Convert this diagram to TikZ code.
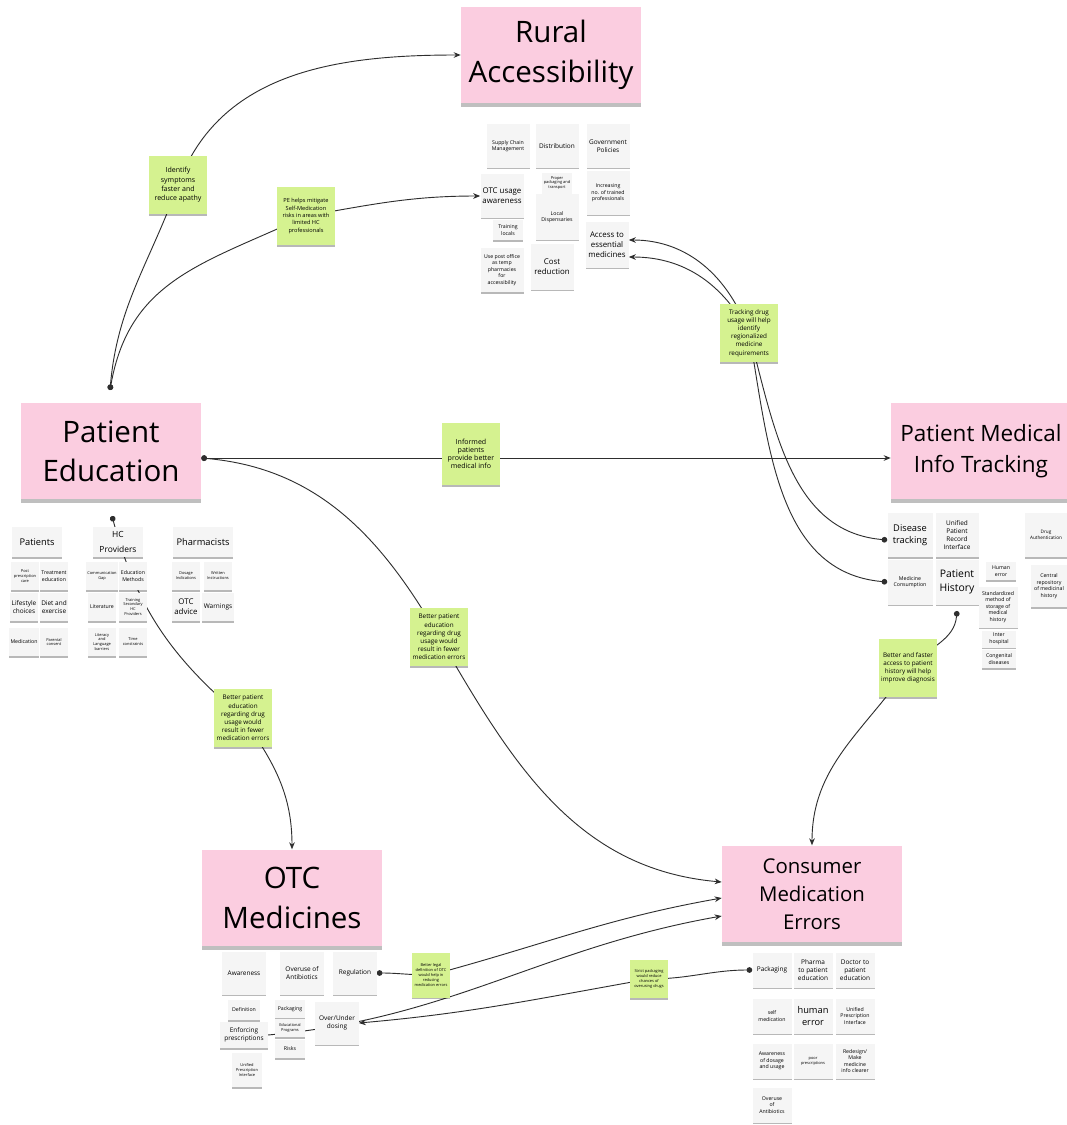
\documentclass[tikz,border=0pt]{standalone}
\usepackage{fontspec}
\setmainfont{Open Sans}
\usetikzlibrary{positioning,arrows.meta,shadows,backgrounds}
\definecolor{stickyPink}{HTML}{FBCDE0}
\definecolor{stickyGreen}{HTML}{D5F290}
\definecolor{stickyGray}{HTML}{F5F5F5}
\definecolor{linkGray}{HTML}{2E2E2E}

\newcommand\ftTiny{\fontsize{2.8}{3.5}\selectfont}
\newcommand\ftSmall{\fontsize{3.7}{4.7}\selectfont}
\newcommand\ftCard{\fontsize{4.6}{5.8}\selectfont}
\newcommand\ftMid{\fontsize{5.6}{7.2}\selectfont}
\newcommand\ftBig{\fontsize{6.6}{8.6}\selectfont}

\tikzset{
  noteshadow/.style={drop shadow={shadow xshift=0pt, shadow yshift=-1.3pt, opacity=0.28, fill=black}},
  theme/.style={fill=stickyPink, minimum width=4.5cm, minimum height=2.42cm, align=center,
    font=\fontsize{21}{28}\selectfont, drop shadow={shadow xshift=0pt, shadow yshift=-2.5pt, opacity=0.25, fill=black}},
  card/.style={fill=stickyGray, align=center, inner sep=1pt, minimum width=1.075cm, minimum height=1.075cm,
    font=\ftCard, noteshadow},
  chip/.style={card, minimum width=0.75cm, minimum height=0.5cm, font=\ftSmall},
  sub/.style={card, minimum width=0.7cm, minimum height=0.72cm, font=\ftSmall},
  cmecard/.style={card, minimum width=0.975cm, minimum height=0.875cm},
  idea/.style={fill=stickyGreen, align=center, inner sep=1pt, minimum width=1.45cm, minimum height=1.45cm,
    font=\fontsize{4.5}{5.8}\selectfont, noteshadow},
  link/.style={draw=linkGray, line width=0.65pt, {Circle[length=4pt]}-{Stealth[length=5pt,width=4pt]}},
}

\begin{document}
\begin{tikzpicture}[x=0.025cm, y=-0.025cm]
\useasboundingbox (0,0) rectangle (1066,1125);

% main themes
\node[theme] (rural) at (551,55) {Rural\\Accessibility};
\node[theme] (pe) at (111,451) {Patient\\Education};
\node[theme, font=\fontsize{16}{22}\selectfont] (pmit) at (981,451) {Patient Medical\\Info Tracking};
\node[theme] (otc) at (292,898) {OTC\\Medicines};
\node[theme, font=\fontsize{14.5}{20}\selectfont] (cme) at (812,894) {Consumer\\Medication\\Errors};

% rural accessibility
\node[card, font=\ftSmall] (supply) at (508,146) {Supply Chain\\Management};
\node[card] (distrib) at (557,146) {Distribution};
\node[card] (govt) at (608,146) {Government\\Policies};
\node[chip, font=\ftTiny, minimum height=0.525cm] (proper) at (557,183) {Proper\\packaging and\\transport};
\node[card, font=\ftMid] (otcAware) at (502,196) {OTC usage\\awareness};
\node[card, font=\ftSmall] (trained) at (608,193) {Increasing\\no. of trained\\professionals};
\node[chip] (locals) at (508,230) {Training\\locals};
\node[card, font=\ftSmall, minimum height=1.125cm] (dispens) at (557,217) {Local\\Dispensaries};
\node[card, font=\ftMid, minimum height=1.125cm] (access) at (607,245) {Access to\\essential\\medicines};
\node[card, font=\ftSmall, minimum height=1.1cm] (postoff) at (502,270) {Use post office\\as temp\\pharmacies\\for\\accessibility};
\node[card, font=\ftMid, minimum height=1.125cm] (cost) at (552,267) {Cost\\reduction};

% patient education
\node[card, font=\ftBig, minimum width=1.25cm, minimum height=0.75cm] (patients) at (37,542) {Patients};
\node[card, font=\fontsize{6}{10}\selectfont, minimum width=1.25cm, minimum height=0.75cm] (hc) at (118,542) {HC\\Providers};
\node[card, font=\ftBig, minimum width=1.5cm, minimum height=0.75cm] (pharm) at (203,542) {Pharmacists};
\node[sub, font=\ftTiny] (postcare) at (25,576) {Post\\prescription\\care};
\node[sub] (treat) at (54,576) {Treatment\\education};
\node[sub, font=\ftCard] (life) at (24,607) {Lifestyle\\choices};
\node[sub, font=\ftCard] (diet) at (54,607) {Diet and\\exercise};
\node[sub] (medic) at (24,642) {Medication};
\node[sub, font=\ftTiny] (parental) at (54,642) {Parental\\consent};
\node[sub, font=\ftTiny] (commgap) at (102,576) {Communication\\Gap};
\node[sub] (edumeth) at (133,576) {Education\\Methods};
\node[sub] (lit) at (102,607) {Literature};
\node[sub, font=\ftTiny] (trainsec) at (133,607) {Training\\Secondary\\HC\\Providers};
\node[sub, font=\ftTiny] (literacy) at (102,642) {Literacy\\and\\Language\\barriers};
\node[sub, font=\ftTiny] (timec) at (133,642) {Time\\constraints};
\node[sub, font=\ftTiny] (dosage) at (186,576) {Dosage\\Indications};
\node[sub, font=\ftTiny] (written) at (218,576) {Written\\Instructions};
\node[sub, font=\ftMid] (otcadv) at (186,607) {OTC\\advice};
\node[sub, font=\ftCard] (warn) at (218,607) {Warnings};

% patient medical info tracking
\node[card, font=\ftBig, minimum width=1.125cm, minimum height=1.1cm] (disease) at (910,535) {Disease\\tracking};
\node[card, minimum height=1.1cm] (unified) at (957,535) {Unified\\Patient\\Record\\Interface};
\node[card, font=\fontsize{3.3}{4.3}\selectfont, minimum height=1.1cm] (drugauth) at (1046,535) {Drug\\Authentication};
\node[card, font=\ftSmall, minimum width=1.125cm, minimum height=1.125cm] (medcons) at (910,582) {Medicine\\Consumption};
\node[card, font=\fontsize{7.4}{9.6}\selectfont, minimum height=1.125cm] (history) at (957,582) {Patient\\History};
\node[chip, minimum height=0.45cm] (humerr) at (1001,571) {Human\\error};
\node[card, font=\ftSmall, minimum width=0.9cm, minimum height=1.05cm] (central) at (1049,586) {Central\\repository\\of medicinal\\history};
\node[card, font=\ftSmall, minimum width=0.975cm, minimum height=1.025cm] (stdmeth) at (998,607) {Standardized\\method of\\storage of\\medical\\history};
\node[chip, minimum width=0.85cm, minimum height=0.425cm] (interhosp) at (999,639) {Inter\\hospital};
\node[chip, minimum width=0.85cm, minimum height=0.45cm] (congen) at (999,659) {Congenital\\diseases};

% otc medicines
\node[card] (aware) at (244,973) {Awareness};
\node[card] (overuse) at (302,973) {Overuse of\\Antibiotics};
\node[card] (regul) at (355,973) {Regulation};
\node[chip, minimum width=0.8cm] (defin) at (244,1010) {Definition};
\node[chip, minimum height=0.45cm] (otcpack) at (290,1009) {Packaging};
\node[chip, font=\ftTiny, minimum height=0.45cm] (eduprog) at (290,1028) {Educational\\Programs};
\node[chip, minimum height=0.45cm] (risks) at (290,1049) {Risks};
\node[card] (overunder) at (337,1023) {Over/Under\\dosing};
\node[card, minimum width=1.175cm, minimum height=0.65cm] (enforce) at (244,1035) {Enforcing\\prescriptions};
\node[chip, font=\ftTiny, minimum height=0.85cm] (otcunified) at (247,1070) {Unified\\Prescription\\Interface};

% consumer medication errors
\node[cmecard] (cmepack) at (772,970) {Packaging};
\node[cmecard] (pharmaedu) at (813,970) {Pharma\\to patient\\education};
\node[cmecard] (doctoredu) at (855,970) {Doctor to\\patient\\education};
\node[cmecard, font=\ftSmall] (selfmed) at (772,1016) {self\\medication};
\node[cmecard, font=\ftBig] (human) at (813,1016) {human\\error};
\node[cmecard, font=\ftSmall] (cmeunified) at (855,1016) {Unified\\Prescription\\Interface};
\node[cmecard, font=\ftSmall] (dosageuse) at (772,1061) {Awareness\\of dosage\\and usage};
\node[cmecard, font=\ftTiny] (poorpres) at (813,1061) {poor\\prescriptions};
\node[cmecard, font=\ftSmall] (redesign) at (855,1061) {Redesign/\\Make\\medicine\\info clearer};
\node[cmecard, font=\ftSmall] (cmeoveruse) at (772,1105) {Overuse\\of\\Antibiotics};

% insight notes
\node[idea, font=\fontsize{5}{6.6}\selectfont] (idSymptoms) at (178,185) {Identify\\symptoms\\faster and\\reduce apathy};
\node[idea, font=\fontsize{4}{5.2}\selectfont] (idMitigate) at (306,216) {PE helps mitigate\\Self-Medication\\risks in areas with\\limited HC\\professionals};
\node[idea, minimum height=1.55cm, font=\fontsize{5}{5.8}\selectfont] (idInformed) at (471,454) {Informed\\patients\\provide better\\medical info};
\node[idea] (idMiddle) at (439,637) {Better patient\\education\\regarding drug\\usage would\\result in fewer\\medication errors};
\node[idea] (idTrack) at (749,333) {Tracking drug\\usage will help\\identify\\regionalized\\medicine\\requirements};
\node[idea] (idLeft) at (243,718) {Better patient\\education\\regarding drug\\usage would\\result in fewer\\medication errors};
\node[idea] (idFaster) at (908,668) {Better and faster\\access to patient\\history will help\\improve diagnosis};
\node[idea, font=\ftTiny, minimum width=0.95cm, minimum height=1.125cm] (idLegal) at (431,975) {Better legal\\definition of OTC\\would help in\\reducing\\medication errors};
\node[idea, font=\ftTiny, minimum width=0.95cm, minimum height=0.95cm] (idStrict) at (649,979) {Strict packaging\\would reduce\\chances of\\overusing drugs};

\coordinate (peTop) at (110,390);
\coordinate (hcTop) at (112,516);
\coordinate (phDot) at (957,611);

\begin{scope}[on background layer]
\fill[white] (0,0) rectangle (1066,1125);
\draw[link] (peTop) to[out=85,in=-110] (idSymptoms.center) to[out=70,in=180] (rural.west);
\draw[link] (peTop) to[out=80,in=205,looseness=1.1] (idMitigate.center) to[out=10,in=180] (otcAware.west);
\draw[link] ([yshift=-0.175cm]pe.east) -- ([yshift=-0.175cm]pmit.west);
\draw[link] ([yshift=-0.175cm]pe.east) to[out=-5,in=120] (idMiddle.center) to[out=-60,in=175] ([yshift=0.3cm]cme.west);
\draw[link] (hcTop) to[out=-75,in=140] (idLeft.center) to[out=-55,in=90] (otc.north);
\draw[link] ([yshift=-0.125cm]disease.west) to[out=175,in=-75] (idTrack.center) to[out=110,in=0] ([yshift=0.125cm]access.east);
\draw[link] (medcons.west) to[out=175,in=-80] (idTrack.center) to[out=118,in=0] ([yshift=-0.3cm]access.east);
\draw[link] (phDot) to[out=-95,in=45] (idFaster.center) to[out=-125,in=90] (cme.north);
\draw[link] (regul.east) to[out=0,in=180] (idLegal.center) to[out=15,in=190] ([yshift=-0.1cm]cme.west);
\draw[link, {}-{Stealth[length=5pt,width=4pt]}] (enforce.east) to[out=5,in=190] ([yshift=-0.55cm]cme.west);
\draw[link] (cmepack.west) to[out=180,in=0] (idStrict.center) to[out=190,in=5] (overunder.east);
\end{scope}
\end{tikzpicture}
\end{document}
